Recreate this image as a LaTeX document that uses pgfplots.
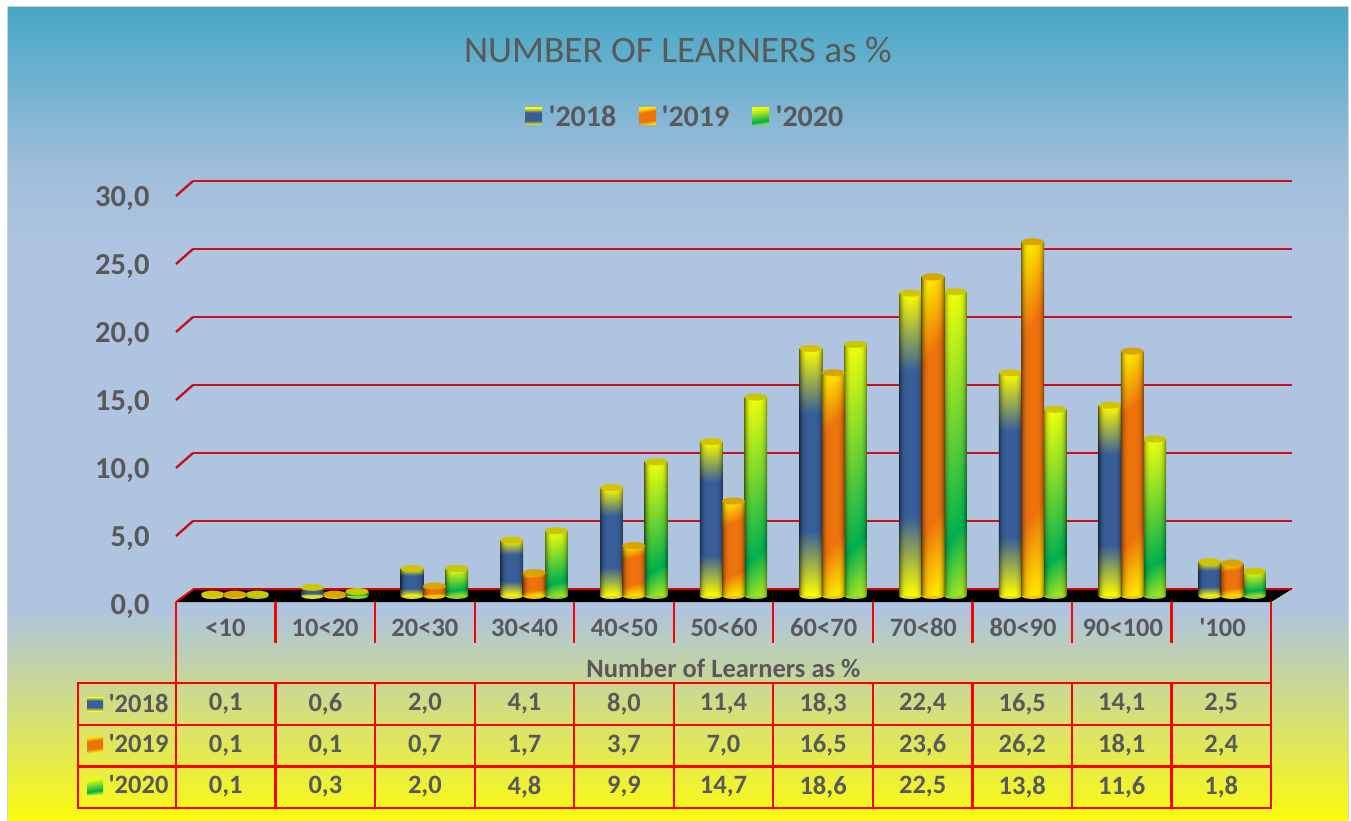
\documentclass[border=0pt]{standalone}
\usepackage{fontspec}
\setmainfont{Carlito}
\usepackage{pgfplots}
\usepackage{pgfplotstable}
\pgfplotsset{compat=1.18}
\definecolor{txt}{HTML}{595959}
\definecolor{gridred}{HTML}{C8101E}
\definecolor{bgA}{HTML}{46A8C5}
\definecolor{bgB}{HTML}{A0BEDB}
\definecolor{bgC}{HTML}{AFC4E0}
\definecolor{bgD}{HTML}{AEC4DF}
\definecolor{bgE}{HTML}{FBFB10}
\definecolor{capA}{HTML}{D2C400}
\definecolor{capB}{HTML}{D8A400}
\definecolor{capC}{HTML}{C8C800}
\definecolor{botA}{HTML}{E6DC20}
\definecolor{botB}{HTML}{F0C800}
\definecolor{botC}{HTML}{90D030}
\pgfdeclareverticalshading{chartbg}{100bp}{
 color(0bp)=(bgE); color(25bp)=(bgE); color(37.9bp)=(bgD); color(60bp)=(bgC); color(65bp)=(bgB); color(75bp)=(bgA); color(100bp)=(bgA)}
% #1 name, #2 edge darkening, #3 slant, #4 code t->w, #5 #6 #7 colour channel as a function of w
\newcommand\mkshade[7]{%
 \pgfdeclarefunctionalshading{#1}{\pgfpoint{0bp}{0bp}}{\pgfpoint{100bp}{100bp}}{}{
  75 exch sub 50 div
  1 index 50 sub 25 div #3 mul add
  exch 50 sub 25 div dup mul dup mul #2 mul 1 exch sub exch
  #4
  dup 0 lt {pop 0} if dup 1 gt {pop 1} if
  2 copy #5 mul
  3 1 roll
  2 copy #6 mul
  3 1 roll
  #7 mul
 }}
\newcommand\wA{0.5 sub abs 0.24 sub 0.26 div}
\newcommand\wB{0.5 sub abs 0.27 sub 0.23 div}
\newcommand\wC{dup 0.8 lt {0.8 div 1 exch sub} {0.8 sub 0.2 div 0.65 mul} ifelse}
\mkshade{cylA}{0.5}{0}{\wA}{0.78 mul 0.22 add}{0.63 mul 0.37 add}{-0.6 mul 0.6 add}
\mkshade{cylB}{0.5}{0.05}{\wB}{0.07 mul 0.93 add}{0.45 mul 0.45 add}{-0.05 mul 0.05 add}
\mkshade{cylC}{0.5}{0.05}{\wC}{0.93 mul 0 add}{0.31 mul 0.69 add}{-0.26 mul 0.31 add}
\mkshade{flatA}{0}{0}{\wA}{0.78 mul 0.22 add}{0.63 mul 0.37 add}{-0.6 mul 0.6 add}
\mkshade{flatB}{0}{0.08}{\wB}{0.07 mul 0.93 add}{0.45 mul 0.45 add}{-0.05 mul 0.05 add}
\mkshade{flatC}{0}{0.08}{\wC}{0.93 mul 0 add}{0.31 mul 0.69 add}{-0.26 mul 0.31 add}

\pgfplotstableread{
x y
0 0.1
1 0.6
2 2.0
3 4.1
4 8.0
5 11.4
6 18.3
7 22.4
8 16.5
9 14.1
10 2.5
}\dataA
\pgfplotstableread{
x y
0 0.1
1 0.1
2 0.7
3 1.7
4 3.7
5 7.0
6 16.5
7 23.6
8 26.2
9 18.1
10 2.4
}\dataB
\pgfplotstableread{
x y
0 0.1
1 0.3
2 2.0
3 4.8
4 9.9
5 14.7
6 18.6
7 22.5
8 13.8
9 11.6
10 1.8
}\dataC
\newcommand\q{\textquotesingle}
\newcommand\fs[1]{\fontsize{#1}{#1}\selectfont}
\pgfplotsset{cap/.style={only marks,mark=*,mark size=11.3pt,mark options={yscale=0.3,draw=#1,fill=#1,line width=0.1pt}}}
% one series: base ellipses, one shaded bar per category, top ellipses
% #1 table, #2 offset in category units, #3 offset in pt, #4 shading, #5 base colour, #6 cap colour
\newcommand\cylseries[6]{%
 \addplot[cap=#5] table[x expr=\thisrow{x}+#2,y expr=0] {#1};
 \pgfplotsinvokeforeach{0,...,10}{%
  \addplot[ybar,bar width=22.8pt,bar shift=#3,draw=none,shade,shading=#4,restrict x to domain=##1:##1] table[x=x,y=y] {#1};
 }
 \addplot[cap=#6] table[x expr=\thisrow{x}+#2,y=y] {#1};
}
\begin{document}
\begin{tikzpicture}[x=1pt,y=1pt]
\path[use as bounding box] (0,0) rectangle (1351,820);
\fill[white] (0,0) rectangle (1351,820);
\shade[shading=chartbg,draw=none] (7,0) rectangle (1348,813);
\draw[black!18,line width=1pt] (7,0) -- (7,813) -- (1348,813) -- (1348,0);
% back wall with gridlines and y tick labels
\begin{axis}[at={(193pt,231pt)},anchor=south west,scale only axis,width=1099pt,height=408pt,
 xmin=0,xmax=1,ymin=0,ymax=30,hide x axis,y axis line style={draw=none},tick style={draw=none},
 axis y line*=left,ytick={0,5,...,30},ymajorgrids=true,
 major grid style={draw=gridred,line width=2.6pt},
 /pgf/number format/.cd,fixed,fixed zerofill,precision=1,use comma,assume math mode=true,
 /pgfplots/.cd,
 yticklabel style={font=\fs{30.5}\bfseries,text=txt,anchor=east,xshift=-40pt,yshift=-18pt}]
\addplot[draw=none] coordinates {(0,0) (1,30)};
\end{axis}
% skew ends of the gridlines
\foreach \v in {1,2,3,4,5,6}
 \draw[gridred,line width=2.4pt] (176,{820-589+68*\v-15}) -- (193,{820-589+68*\v});
% floor
\fill[black] (176,820-602) -- (194,820-589) -- (1292,820-589) -- (1271,820-602) -- cycle;
\draw[red!85!black,line width=2pt] (176,820-602) -- (194,820-589) -- (1292,820-589);
% table
\begin{scope}[red,line width=2.2pt]
 \draw (78,820-683) rectangle (1271,820-808);
 \draw (78,820-725) -- (1271,820-725);
 \draw (78,820-766.5) -- (1271,820-766.5);
 \draw (176,820-602) -- (176,820-808);
 \draw[line width=2.6pt] (1271,820-602) -- (1271,820-643);
 \draw[line width=1.6pt] (1271,820-643) -- (1271,820-683);
 \draw[line width=2.8pt] (1271,820-683) -- (1271,820-808);
 \foreach \i in {1,...,10} {
  \draw ({176+99.55*\i},820-602) -- ({176+99.55*\i},820-643);
  \draw ({176+99.55*\i},820-683) -- ({176+99.55*\i},820-808);
 }
\end{scope}
\foreach \v [count=\i from 0] in {{0,1},{0,6},{2,0},{4,1},{8,0},{11,4},{18,3},{22,4},{16,5},{14,1},{2,5}}
 \node[text=txt,font=\fs{26.5}\bfseries] at ({225.8+99.55*\i},820-704) {\v};
\foreach \v [count=\i from 0] in {{0,1},{0,1},{0,7},{1,7},{3,7},{7,0},{16,5},{23,6},{26,2},{18,1},{2,4}}
 \node[text=txt,font=\fs{26.5}\bfseries] at ({225.8+99.55*\i},820-745.5) {\v};
\foreach \v [count=\i from 0] in {{0,1},{0,3},{2,0},{4,8},{9,9},{14,7},{18,6},{22,5},{13,8},{11,6},{1,8}}
 \node[text=txt,font=\fs{26.5}\bfseries] at ({225.8+99.55*\i},820-787) {\v};
\node[text=txt,font=\fs{26.5}\bfseries,anchor=east] at (172,820-703) {\q2018};
\node[text=txt,font=\fs{26.5}\bfseries,anchor=east] at (172,820-744) {\q2019};
\node[text=txt,font=\fs{26.5}\bfseries,anchor=east] at (172,820-785) {\q2020};
\shade[shading=flatA] (87,820-697) rectangle (103,820-711);
\shade[shading=flatB] (87,820-737) rectangle (103,820-752);
\shade[shading=flatC] (87,820-779) rectangle (103,820-794);
% title and legend
\node[text=txt,font=\fs{37.3}] at (678,820-50) {NUMBER OF LEARNERS as \%};
\shade[shading=flatA] (525,820-108) rectangle (542,820-125);
\shade[shading=flatB] (639,820-108) rectangle (656,820-125);
\shade[shading=flatC] (752,820-108) rectangle (769,820-125);
\node[text=txt,font=\fs{30}\bfseries,anchor=west] at (545,820-116) {\q2018};
\node[text=txt,font=\fs{30}\bfseries,anchor=west] at (658,820-116) {\q2019};
\node[text=txt,font=\fs{30}\bfseries,anchor=west] at (772,820-116) {\q2020};
% bars
\begin{axis}[at={(185.15pt,224.5pt)},anchor=south west,scale only axis,width=1096.7pt,height=405pt,
 xmin=-0.5,xmax=10.5,ymin=0,ymax=30,clip=false,clip marker paths=true,
 hide y axis,axis x line*=bottom,x axis line style={draw=none},tick style={draw=none},
 xtick={0,...,10},
 xticklabels={{<10},{10<20},{20<30},{30<40},{40<50},{50<60},{60<70},{70<80},{80<90},{90<100},{\q100}},
 xticklabel style={font=\fs{26.5}\bfseries,text=txt,anchor=center,xshift=-9.5pt,yshift=-32pt},
 xlabel={Number of Learners as \%},
 xlabel style={font=\fs{26.5}\bfseries,text=txt,at={(axis description cs:0.5,0)},anchor=center,xshift=-10pt,yshift=-72.5pt}]
\cylseries{\dataA}{-0.2237}{-22.3pt}{cylA}{botA}{capA}
\cylseries{\dataC}{0.2237}{22.3pt}{cylC}{botC}{capC}
\cylseries{\dataB}{0}{0pt}{cylB}{botB}{capB}
\end{axis}
\end{tikzpicture}
\end{document}
